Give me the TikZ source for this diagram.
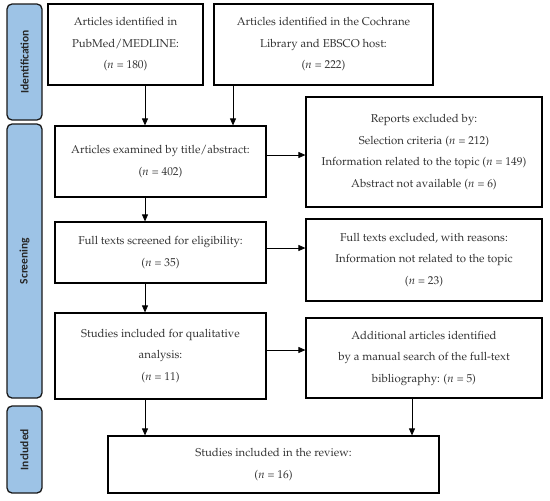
\documentclass[tikz,border=0pt]{standalone}
\usepackage{fontspec}
\newfontfamily\barfont{Carlito}
\usepackage[T1]{fontenc}
\usepackage{mathpazo}
\usetikzlibrary{arrows.meta}
\begin{document}
\begin{tikzpicture}[x=1pt,y=-1pt,
  box/.style={draw=black, line width=1.2pt, align=center, inner sep=0pt,
    font=\fontsize{11.4}{21.5}\selectfont, text=black!80},
  bar/.style={draw=black!90, line width=1.3pt, rounded corners=5pt, fill=barblue,
    minimum width=35pt, inner sep=0pt},
  barlabel/.style={rotate=90, font=\barfont\bfseries\fontsize{11.5}{13}\selectfont, text=black!85},
  arr/.style={-{Triangle[length=7pt,width=6pt]}, line width=0.8pt}]
\definecolor{barblue}{RGB}{157,195,230}
\useasboundingbox (0,0) rectangle (550,501);
% side bars
\node[bar, minimum height=116pt] (bi) at (24.5,62) {};
\node[barlabel] (bil) at (bi.center) {Identification};
\node[bar, minimum height=274pt] (bs) at (24.5,261) {};
\node[barlabel] (bsl) at (bs.center) {Screening};
\node[bar, minimum height=87pt] (bn) at (24.5,449.5) {};
\node[barlabel] (bnl) at (bn.center) {Included};
% boxes
\node[box, minimum width=155pt, minimum height=81pt] (b1) at (125.5,44.5)
  {Articles identified in\\PubMed/MEDLINE:\\($n$ = 180)};
\node[box, minimum width=219pt, minimum height=81pt] (b2) at (323.5,44.5)
  {Articles identified in the Cochrane\\Library and EBSCO host:\\($n$ = 222)};
\node[box, minimum width=211pt, minimum height=71pt] (b3) at (160.5,161.5)
  {Articles examined by title/abstract:\\($n$ = 402)};
\node[box, minimum width=236pt, minimum height=110pt] (r1) at (424,152)
  {Reports excluded by:\\Selection criteria ($n$ = 212)\\Information related to the topic ($n$ = 149)\\Abstract not available ($n$ = 6)};
\node[box, minimum width=211pt, minimum height=61pt] (b4) at (160.5,252.5)
  {Full texts screened for eligibility:\\($n$ = 35)};
\node[box, minimum width=236pt, minimum height=82pt] (r2) at (424,260)
  {Full texts excluded, with reasons:\\Information not related to the topic\\($n$ = 23)};
\node[box, minimum width=211pt, minimum height=86pt] (b5) at (160.5,356)
  {Studies included for qualitative\\analysis:\\($n$ = 11)};
\node[box, minimum width=236pt, minimum height=80pt] (r3) at (424,358)
  {Additional articles identified\\by a manual search of the full-text\\bibliography: ($n$ = 5)};
\node[box, minimum width=331pt, minimum height=57pt] (b7) at (273.5,464.5)
  {Studies included in the review:\\($n$ = 16)};
% connector columns
\coordinate (cx) at (145,0);
\coordinate (cy) at (233,0);
\coordinate (cz) at (412,0);
\coordinate (h1) at (0,155);
\coordinate (h2) at (0,248);
\coordinate (h3) at (0,350);
\draw[arr] (b1.south -| cx) -- (b3.north -| cx);
\draw[arr] (b2.south -| cy) -- (b3.north -| cy);
\draw[arr] (b3.south -| cx) -- (b4.north -| cx);
\draw[arr] (b4.south -| cx) -- (b5.north -| cx);
\draw[arr] (b5.south -| cx) -- (b7.north -| cx);
\draw[arr] (r3.south -| cz) -- (b7.north -| cz);
\draw[arr] (b3.east |- h1) -- (r1.west |- h1);
\draw[arr] (b4.east |- h2) -- (r2.west |- h2);
\draw[arr] (b5.east |- h3) -- (r3.west |- h3);
\end{tikzpicture}
\end{document}
